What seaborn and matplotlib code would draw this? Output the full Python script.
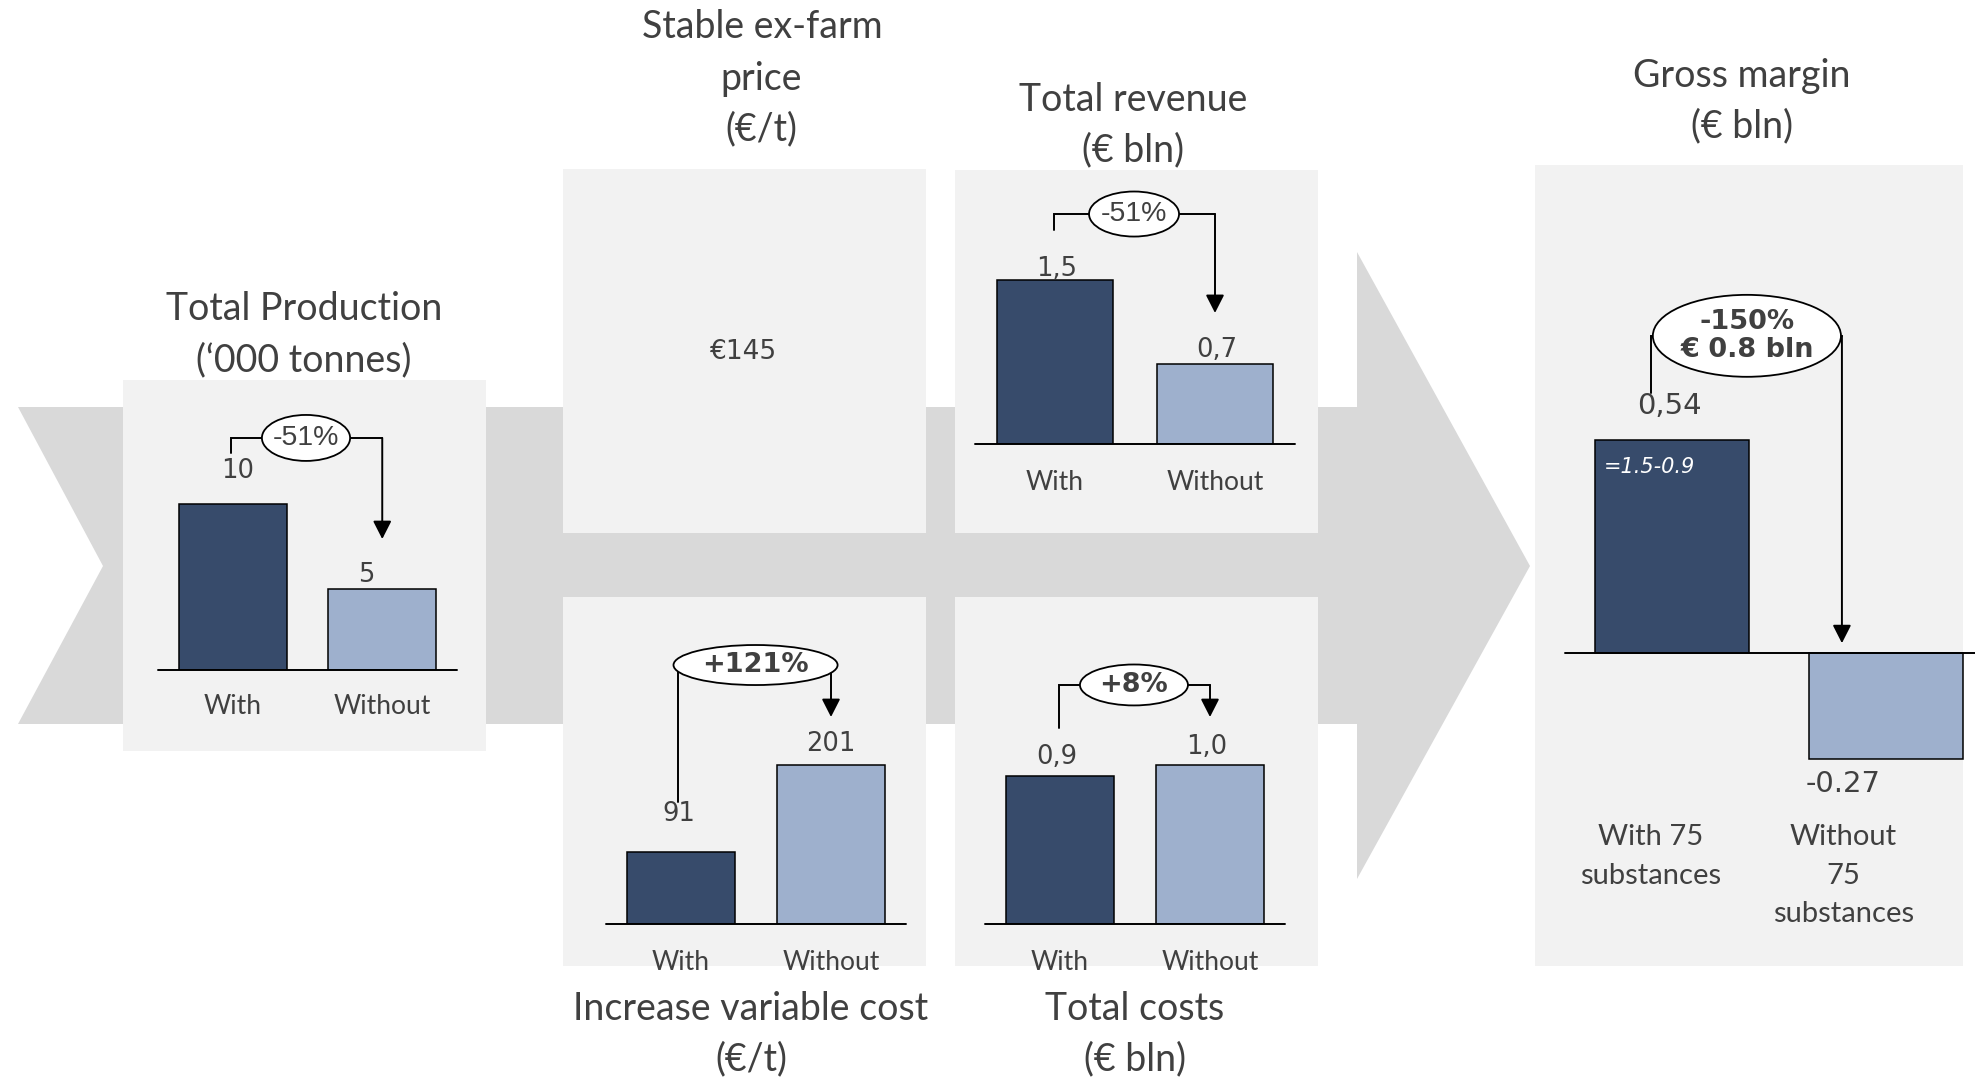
import numpy as np
import pandas as pd
import seaborn as sns
import matplotlib.pyplot as plt
from matplotlib.patches import Polygon, Rectangle, Ellipse

W, H = 1975, 1078

# ---- data ----
cats = ["With", "Without"]
margin_cats = ["With 75\nsubstances", "Without\n75\nsubstances"]

production = [10, 4.9]
production_labels = ["10", "5"]
revenue = [1.5, 0.735]
revenue_labels = ["1,5", "0,7"]
var_cost = [91, 201]
var_cost_labels = ["91", "201"]
costs = [0.9, 0.97]
costs_labels = ["0,9", "1,0"]
margin = [0.54, -0.27]
margin_labels = ["0,54", "-0.27"]
price_label = "€145"
margin_note = "=1.5-0.9"

changes = ["-51%", "-51%", "+121%", "+8%", "-150%\n€ 0.8 bln"]

DARK = "#374b6b"
LIGHT = "#9eb0cd"
BAND = "#d9d9d9"
PANEL = "#f2f2f2"
TXT = "#404040"

sns.set_theme(style="white")
plt.rcParams['font.family'] = ['Lato', 'DejaVu Sans']

fig = plt.figure(figsize=(W / 100, H / 100), dpi=100)

# background in pixel coords (y down)
bg = fig.add_axes([0, 0, 1, 1])
bg.set_xlim(0, W)
bg.set_ylim(H, 0)
bg.axis('off')

band = [(18, 407), (1357, 407), (1357, 252), (1530, 566), (1357, 879),
        (1357, 724), (18, 724), (103, 566)]
bg.add_patch(Polygon(band, closed=True, facecolor=BAND, edgecolor='none'))

panels = [(123, 380, 486, 751), (563, 169, 926, 533), (955, 170, 1318, 533),
          (563, 597, 926, 966), (955, 597, 1318, 966), (1535, 165, 1963, 966)]
for x0, y0, x1, y1 in panels:
    bg.add_patch(Rectangle((x0, y0), x1 - x0, y1 - y0, facecolor=PANEL, edgecolor='none'))

# titles
title_kw = dict(ha='center', va='center', fontsize=27, color=TXT, family='Lato')
titles = [
    (304, 309, "Total Production"), (304, 360, "(\u2018000 tonnes)"),
    (762, 27, "Stable ex-farm"), (761, 79, "price"), (761, 129, "(€/t)"),
    (1133, 100, "Total revenue"), (1133, 150, "(€ bln)"),
    (1742, 76, "Gross margin"), (1742, 126, "(€ bln)"),
    (751, 1009, "Increase variable cost"), (751, 1059, "(€/t)"),
    (1135, 1009, "Total costs"), (1135, 1059, "(€ bln)"),
]
for x, y, t in titles:
    bg.text(x, y, t, **title_kw)

bg.text(744, 352, price_label, ha='center', va='center', fontsize=19,
        color=TXT, family='DejaVu Sans')


def bar_panel(x0, x1, base, ppu, top, bottom, vals, labels, names, offsets,
              vfs=18.5, tfs=19, pad=18, ls=1.2, tick_pos=None):
    ax = fig.add_axes([x0 / W, 1 - bottom / H, (x1 - x0) / W, (bottom - top) / H])
    ax.set_facecolor('none')
    df = pd.DataFrame({"cat": names, "val": vals})
    sns.barplot(data=df, x="cat", y="val", hue="cat", palette=[DARK, LIGHT],
                width=0.72, edgecolor="black", linewidth=1.1, legend=False,
                saturation=1, ax=ax, zorder=3)
    ax.set_xlim(-0.5, 1.5)
    ax.set_ylim((base - bottom) / ppu, (base - top) / ppu)
    ax.axhline(0, color='black', lw=1.4, clip_on=False, zorder=4)
    if tick_pos is not None:
        ax.set_xticks(tick_pos, names)
    for s in ax.spines.values():
        s.set_visible(False)
    ax.set_yticks([])
    ax.set_xlabel('')
    ax.set_ylabel('')
    ax.tick_params(axis='x', length=0, pad=pad, labelsize=tfs, labelcolor=TXT)
    for lbl in ax.get_xticklabels():
        lbl.set_fontfamily('Lato')
        lbl.set_linespacing(ls)
    # value labels, nudged 2 px down so the digits sit where the reference has them
    for i, (v, lab, (dx, dy)) in enumerate(zip(vals, labels, offsets)):
        ax.annotate(lab, xy=(i, v), xytext=(dx * 0.72, (dy - 2) * 0.72),
                    textcoords='offset points', ha='center', va='center',
                    fontsize=vfs, color=TXT, family='DejaVu Sans',
                    annotation_clip=False)
    return ax


def bracket(ax, xl, y0, xr, tip, ex, level, ew, eh, text, fs=19.5,
            weight='bold', fam='DejaVu Sans', ls=1.2):
    ax.plot([xl, xl, xr], [y0, level, level], color='black', lw=1.4,
            clip_on=False, zorder=5, solid_joinstyle='miter')
    ax.annotate('', xy=(xr, tip), xytext=(xr, level),
                arrowprops=dict(arrowstyle='-|>,head_length=0.55,head_width=0.28',
                                mutation_scale=20, color='black', lw=1.4,
                                shrinkA=0, shrinkB=0),
                annotation_clip=False, zorder=5)
    e = Ellipse((ex, level), ew, eh, facecolor='white', edgecolor='black',
                lw=1.3, zorder=6)
    e.set_clip_on(False)
    ax.add_patch(e)
    ax.text(ex, level, text, ha='center', va='center', fontsize=fs,
            fontweight=weight, family=fam, color=TXT, zorder=7,
            linespacing=ls)


# Total production
ax1 = bar_panel(158, 457, 670, 16.6, 400, 670, production, production_labels,
                cats, [(5, 35), (-16, 16)], pad=17.5)
bracket(ax1, -0.01, 13.07, 1.0, 7.89, 0.49, 13.98, 0.59, 2.77, changes[0],
        fs=20.5, weight='normal', fam='Liberation Sans')

# Total revenue
ax2 = bar_panel(975, 1295, 444, 109.3, 180, 444, revenue, revenue_labels,
                cats, [(2, 13), (2, 16)], pad=18.4)
bracket(ax2, -0.006, 1.958, 1.0, 1.199, 0.494, 2.104, 0.5625, 0.412, changes[1],
        fs=20.5, weight='normal', fam='Liberation Sans')

# Increase variable cost
ax3 = bar_panel(606, 906, 924, 0.791, 620, 924, var_cost, var_cost_labels,
                cats, [(-2, 40), (0, 23)], pad=18.4)
bracket(ax3, -0.02, 154.2, 1.0, 261.7, 0.497, 327.4, 1.094, 50.6, changes[2])

# Total costs
ax4 = bar_panel(985, 1285, 924, 164.4, 620, 924, costs, costs_labels,
                cats, [(-3, 21), (-3, 20)], pad=18.4)
bracket(ax4, -0.007, 1.192, 1.0, 1.259, 0.493, 1.454, 0.72, 0.249, changes[3])

# Gross margin
ax5 = bar_panel(1565, 1993, 653, 394, 200, 800, margin, margin_labels,
                margin_cats, [(-3, 36), (-43, -23)], vfs=21, tfs=21, pad=17.3,
                ls=1.6, tick_pos=[-0.1, 0.8])
bracket(ax5, -0.098, 0.66, 0.794, 0.025, 0.35, 0.805, 0.879, 0.208, changes[4],
        fs=19.5, ls=1.1)
ax5.annotate(margin_note, xy=(-0.36, margin[0]), xytext=(9 * 0.72, -27 * 0.72),
             textcoords='offset points', ha='left', va='center', fontsize=15,
             style='italic', color='white', family='DejaVu Sans', zorder=8)

fig.savefig("out.png", dpi=100)
